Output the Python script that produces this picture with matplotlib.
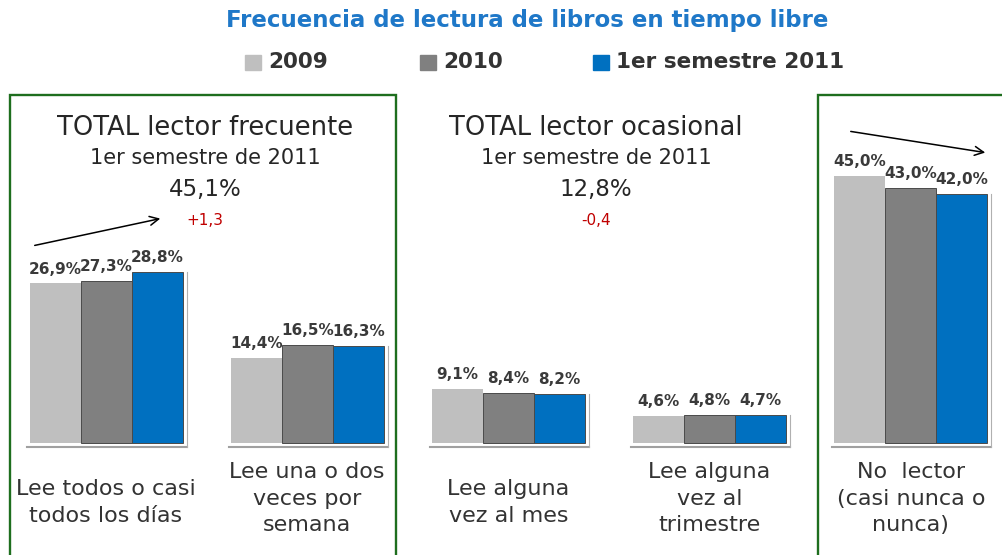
import matplotlib
matplotlib.use('Agg')
import matplotlib.pyplot as plt
from matplotlib.patches import Rectangle, FancyArrowPatch
import numpy as np

# data
categories = ["Lee todos o casi\ntodos los días",
              "Lee una o dos\nveces por\nsemana",
              "Lee alguna\nvez al mes",
              "Lee alguna\nvez al\ntrimestre",
              "No  lector\n(casi nunca o\nnunca)"]
series_names = ["2009", "2010", "1er semestre 2011"]
v2009 = [26.9, 14.4, 9.1, 4.6, 45.0]
v2010 = [27.3, 16.5, 8.4, 4.8, 43.0]
v2011 = [28.8, 16.3, 8.2, 4.7, 42.0]
colors = ['#bfbfbf', '#808080', '#0070c0']

panel_titles = ["TOTAL lector frecuente", "TOTAL lector ocasional"]
panel_totals = ["45,1%", "12,8%"]
panel_diffs = ["+1,3", "-0,4"]

W, H = 1002, 555
fig = plt.figure(figsize=(W / 100, H / 100), dpi=100)
fig.patch.set_facecolor('white')


def fx(px):
    return px / W


def fy(py):
    return 1 - py / H


# one axes over the whole figure, baseline at y=443px, 5.93 px per percent
ax = fig.add_axes([0, 0, 1, 1])
ax.axis('off')
unit_x = 201.2
ax.set_xlim(-106 / unit_x, (W - 106) / unit_x)
ax.set_ylim(-(H - 443) / 5.93, 443 / 5.93)

x = np.arange(len(categories))
bw = 51 / unit_x
for i, (vals, c) in enumerate(zip([v2009, v2010, v2011], colors)):
    ec = 'none' if i == 0 else '#4a4a4a'
    bars = ax.bar(x + (i - 1) * bw, vals, bw, color=c, edgecolor=ec,
                  linewidth=0.7, zorder=3)
    for b, v in zip(bars, vals):
        ax.annotate(f"{v:.1f}%".replace('.', ','),
                    (b.get_x() + b.get_width() / 2, v),
                    xytext=(0, 5), textcoords='offset points',
                    ha='center', va='bottom', fontsize=11, fontweight='bold',
                    color='#3a3a3a', zorder=4)

# little frame under and right of each group
for xi, top in zip(x, v2011):
    left = xi - 1.5 * bw - 0.01
    right = xi + 1.5 * bw + 0.02
    ax.plot([left, right], [-0.6, -0.6], color='#a0a0a0', lw=1.5, zorder=2)
    ax.plot([right, right], [-0.6, top], color='#b0b0b0', lw=0.8, zorder=2)

# category labels
for xi, cat in zip(x, categories):
    nlines = cat.count('\n') + 1
    ytop = 479 if nlines == 2 else 462
    fig.text(fx(xi * unit_x + 106), fy(ytop), cat, ha='center', va='top',
             fontsize=16, color='#333333', linespacing=1.42)

# title and legend
fig.text(fx(527), fy(21), "Frecuencia de lectura de libros en tiempo libre",
         ha='center', va='center', fontsize=16.5, fontweight='bold',
         color='#1f78c8')
leg_x = [245, 420, 593]
for lx, name, c in zip(leg_x, series_names, colors):
    fig.patches.append(Rectangle((fx(lx), fy(70)), fx(16), 15 / H,
                                 transform=fig.transFigure, color=c))
    fig.text(fx(lx + 23), fy(62), name, ha='left', va='center',
             fontsize=15.5, fontweight='bold', color='#333333')

# green panel boxes
green = '#1e6e1e'
fig.patches.append(Rectangle((fx(10), -0.05), fx(386), fy(95) + 0.05,
                             transform=fig.transFigure, fill=False,
                             edgecolor=green, lw=1.7))
fig.patches.append(Rectangle((fx(818), -0.05), fx(200), fy(95) + 0.05,
                             transform=fig.transFigure, fill=False,
                             edgecolor=green, lw=1.7))

# panel headings
for cx, t, tot, d in zip([205, 596], panel_titles, panel_totals, panel_diffs):
    fig.text(fx(cx), fy(128), t, ha='center', va='center', fontsize=18.5,
             color='#262626')
    fig.text(fx(cx), fy(158), "1er semestre de 2011", ha='center',
             va='center', fontsize=15, color='#262626')
    fig.text(fx(cx), fy(189), tot, ha='center', va='center', fontsize=16.5,
             color='#262626')
    fig.text(fx(cx), fy(221), d, ha='center', va='center', fontsize=11,
             color='#c00000')

# trend arrows
for (x0, y0), (x1, y1) in [((32, 246), (163, 218)), ((848, 131), (988, 153))]:
    fig.patches.append(FancyArrowPatch((fx(x0), fy(y0)), (fx(x1), fy(y1)),
                                       transform=fig.transFigure,
                                       arrowstyle='->', mutation_scale=16,
                                       color='black', lw=1.1))

fig.savefig('out.png', dpi=100)
